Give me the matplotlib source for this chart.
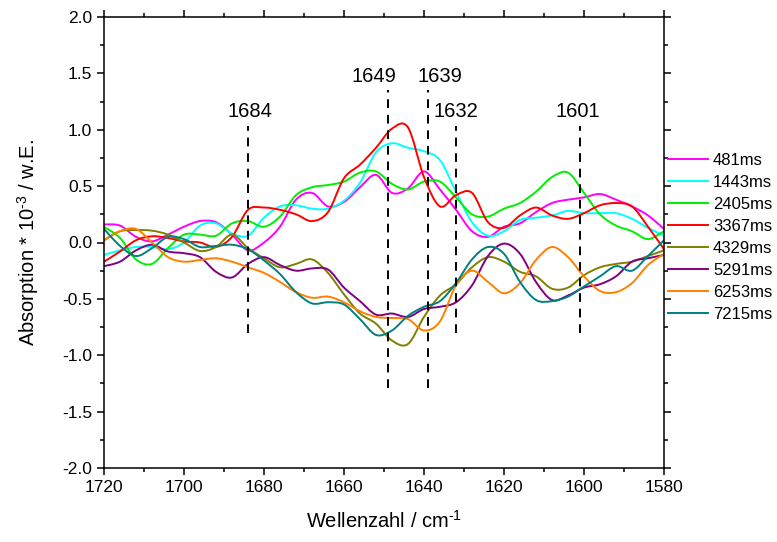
import matplotlib
matplotlib.use("Agg")
import matplotlib.pyplot as plt
from matplotlib.path import Path
from matplotlib.patches import PathPatch
from matplotlib.lines import Line2D
from matplotlib.ticker import MultipleLocator, FormatStrFormatter

plt.rcParams['font.family'] = ['Liberation Sans', 'DejaVu Sans']
plt.rcParams['axes.unicode_minus'] = False

# Wavenumber grid (cm^-1)
wavenumber = [1720, 1716, 1712, 1708, 1704, 1700, 1696, 1692, 1688, 1684,
              1680, 1676, 1672, 1668, 1664, 1660, 1656, 1652, 1648, 1644,
              1640, 1636, 1632, 1628, 1624, 1620, 1616, 1612, 1608, 1604,
              1600, 1596, 1592, 1588, 1584, 1580]

# Difference absorption spectra (* 10^-3) at each delay time
s481 = [0.16, 0.15, 0.05, 0.01, 0.07, 0.14, 0.19, 0.18, 0.07, -0.07,
        0.00, 0.14, 0.38, 0.44, 0.32, 0.36, 0.49, 0.60, 0.44, 0.48,
        0.63, 0.47, 0.29, 0.10, 0.05, 0.14, 0.17, 0.27, 0.35, 0.38,
        0.40, 0.43, 0.38, 0.32, 0.24, 0.12]
s1443 = [-0.11, -0.07, -0.04, -0.04, -0.06, 0.00, 0.15, 0.17, 0.08, 0.06,
         0.22, 0.32, 0.33, 0.30, 0.30, 0.37, 0.53, 0.80, 0.88, 0.84,
         0.81, 0.73, 0.45, 0.18, 0.06, 0.10, 0.20, 0.22, 0.24, 0.28,
         0.26, 0.26, 0.26, 0.21, 0.13, 0.06]
s2405 = [0.14, 0.04, -0.15, -0.19, -0.05, 0.07, 0.07, 0.06, 0.17, 0.19,
         0.14, 0.23, 0.42, 0.49, 0.51, 0.54, 0.62, 0.63, 0.52, 0.47,
         0.54, 0.54, 0.40, 0.25, 0.23, 0.30, 0.35, 0.45, 0.58, 0.62,
         0.44, 0.25, 0.15, 0.10, 0.03, 0.10]
s3367 = [-0.17, -0.08, 0.02, 0.055, 0.04, 0.01, 0.00, -0.04, 0.05, 0.29,
         0.31, 0.29, 0.25, 0.19, 0.27, 0.57, 0.69, 0.84, 1.01, 1.02,
         0.58, 0.32, 0.42, 0.44, 0.18, 0.13, 0.24, 0.31, 0.24, 0.21,
         0.26, 0.33, 0.35, 0.32, 0.14, -0.06]
s4329 = [0.02, 0.10, 0.11, 0.105, 0.07, 0.00, -0.075, -0.04, 0.07, -0.05,
         -0.14, -0.22, -0.19, -0.15, -0.27, -0.46, -0.63, -0.72, -0.87, -0.90,
         -0.66, -0.47, -0.37, -0.22, -0.13, -0.17, -0.26, -0.30, -0.41, -0.40,
         -0.29, -0.22, -0.19, -0.17, -0.12, -0.07]
s5291 = [-0.21, -0.17, -0.07, -0.02, -0.08, -0.095, -0.13, -0.26, -0.31, -0.19,
         -0.13, -0.20, -0.25, -0.23, -0.24, -0.40, -0.52, -0.64, -0.63, -0.66,
         -0.59, -0.57, -0.53, -0.38, -0.12, -0.01, -0.10, -0.35, -0.51, -0.47,
         -0.40, -0.37, -0.30, -0.17, -0.14, -0.11]
s6253 = [0.02, 0.10, 0.12, 0.00, -0.13, -0.17, -0.155, -0.14, -0.17, -0.22,
         -0.27, -0.35, -0.44, -0.49, -0.48, -0.53, -0.61, -0.66, -0.67, -0.68,
         -0.78, -0.70, -0.38, -0.25, -0.35, -0.45, -0.36, -0.155, -0.04, -0.13,
         -0.30, -0.43, -0.44, -0.36, -0.20, -0.10]
s7215 = [0.12, -0.03, -0.12, -0.05, 0.05, 0.03, -0.04, -0.03, -0.02, -0.06,
         -0.16, -0.28, -0.44, -0.54, -0.53, -0.55, -0.68, -0.82, -0.78, -0.65,
         -0.57, -0.52, -0.36, -0.15, -0.04, -0.10, -0.35, -0.51, -0.52, -0.48,
         -0.39, -0.30, -0.21, -0.25, -0.12, 0.02]

series = [s481, s1443, s2405, s3367, s4329, s5291, s6253, s7215]
labels = ["481ms", "1443ms", "2405ms", "3367ms", "4329ms", "5291ms", "6253ms", "7215ms"]
colors = ["#FF00FF", "#00FFFF", "#00EE00", "#FF0000",
          "#808000", "#800080", "#FF8000", "#008080"]

# Marked band positions
bands = [1684, 1649, 1639, 1632, 1601]
band_top = [1.03, 1.35, 1.35, 1.03, 1.03]
band_bottom = [-0.80, -1.29, -1.29, -0.80, -0.80]
band_label_x = [1683.5, 1652.5, 1636.0, 1632.0, 1601.5]
band_label_y = [1.08, 1.39, 1.39, 1.08, 1.08]


def spline_path(x, y):
    """Smooth Bezier path (Catmull-Rom style) passing through every sample."""
    n = len(x)
    verts = [(x[0], y[0])]
    codes = [Path.MOVETO]
    for i in range(n - 1):
        x0, y0 = (x[i - 1], y[i - 1]) if i > 0 else (x[i], y[i])
        x3, y3 = (x[i + 2], y[i + 2]) if i + 2 < n else (x[i + 1], y[i + 1])
        c1 = (x[i] + (x[i + 1] - x0) / 6.0, y[i] + (y[i + 1] - y0) / 6.0)
        c2 = (x[i + 1] - (x3 - x[i]) / 6.0, y[i + 1] - (y3 - y[i]) / 6.0)
        verts += [c1, c2, (x[i + 1], y[i + 1])]
        codes += [Path.CURVE4, Path.CURVE4, Path.CURVE4]
    return Path(verts, codes)


fig = plt.figure(figsize=(7.77, 5.42), dpi=100)
ax = fig.add_axes([104 / 777, 1 - 468 / 542, 560 / 777, 451 / 542])

handles = []
for y, lab, c in zip(series, labels, colors):
    ax.add_patch(PathPatch(spline_path(wavenumber, y), facecolor="none",
                           edgecolor=c, lw=1.4, capstyle="round", joinstyle="round"))
    handles.append(Line2D([], [], color=c, lw=1.4, label=lab))

for wn, top, bot, lx, ly in zip(bands, band_top, band_bottom, band_label_x, band_label_y):
    ax.plot([wn, wn], [bot, top], color="black", lw=1.4, ls=(0, (4.5, 3.5)))
    ax.text(lx, ly, str(wn), ha="center", va="bottom", fontsize=14.5)

ax.set_xlim(1720, 1580)
ax.set_ylim(-2.0, 2.0)
ax.xaxis.set_major_locator(MultipleLocator(20))
ax.xaxis.set_minor_locator(MultipleLocator(10))
ax.yaxis.set_major_locator(MultipleLocator(0.5))
ax.yaxis.set_minor_locator(MultipleLocator(0.25))
ax.yaxis.set_major_formatter(FormatStrFormatter("%.1f"))
ax.tick_params(which="both", direction="out", top=True, right=True,
               labelsize=12.5, width=1.1)
ax.tick_params(which="major", length=5)
ax.tick_params(which="minor", length=3)
for sp in ax.spines.values():
    sp.set_linewidth(1.1)

ax.set_xlabel("Wellenzahl / cm$^{\\mathregular{\u20101}}$", fontsize=14.5, labelpad=11)
ax.set_ylabel("Absorption * 10$^{\\mathregular{\u20103}}$ / w.E.", fontsize=14.5, labelpad=15)

ax.legend(handles=handles, loc="upper left", bbox_to_anchor=(1.007, 0.699), frameon=False,
          fontsize=12, handlelength=2.4, handletextpad=0.3, labelspacing=0.42,
          borderpad=0, borderaxespad=0)

fig.savefig("out.png", dpi=100)
